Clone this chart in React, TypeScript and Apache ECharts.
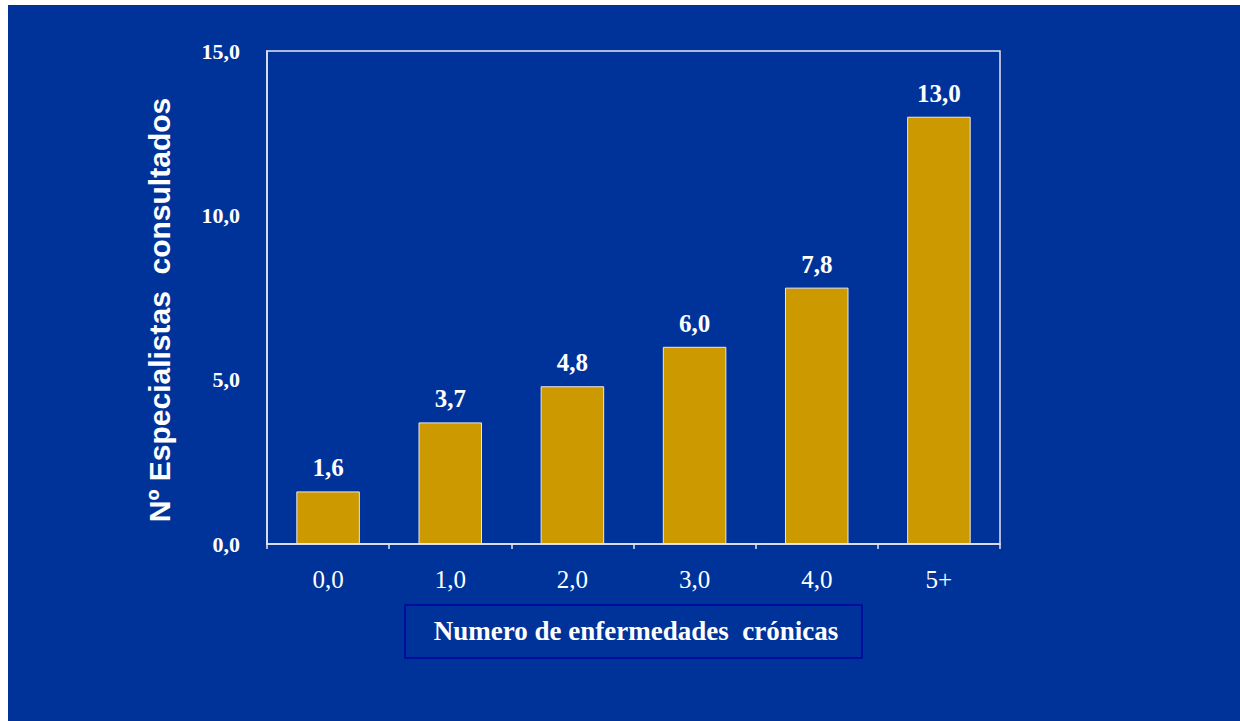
import React, { useEffect, useRef } from "react";
import * as echarts from "echarts";

const categories = ["0,0", "1,0", "2,0", "3,0", "4,0", "5+"];
const values = [1.6, 3.7, 4.8, 6.0, 7.8, 13.0];
const yTicks = [0, 5, 10, 15];
const yTitle = "Nº Especialistas  consultados";
const xTitle = "Numero de enfermedades  crónicas";

const fmt = (v: number) => v.toFixed(1).replace(".", ",");

export default function App() {
  const ref = useRef<HTMLDivElement>(null);
  useEffect(() => {
    if (!ref.current) return;
    const chart = echarts.init(ref.current, undefined, { renderer: "svg" });
    chart.setOption({
      animation: false,
      backgroundColor: "#003399",
      grid: {
        left: 259,
        top: 46,
        right: 240,
        bottom: 177,
        show: true,
        borderColor: "#E6E6F0",
        borderWidth: 1.5,
        backgroundColor: "transparent",
      },
      xAxis: {
        type: "category",
        data: categories,
        axisLine: { lineStyle: { color: "#E6E6F0", width: 1.5 } },
        axisTick: { show: true, length: 5, lineStyle: { color: "#E6E6F0", width: 1.5 } },
        axisLabel: {
          color: "#FFFFFF",
          fontFamily: "Liberation Serif",
          fontSize: 25,
          margin: 23,
        },
      },
      yAxis: {
        type: "value",
        min: yTicks[0],
        max: yTicks[yTicks.length - 1],
        interval: 5,
        splitLine: { show: false },
        axisLine: { show: true, lineStyle: { color: "#E6E6F0", width: 1.5 } },
        axisTick: { show: false },
        axisLabel: {
          color: "#FFFFFF",
          fontFamily: "Liberation Serif",
          fontWeight: "bold",
          fontSize: 22,
          margin: 27,
          formatter: (v: number) => fmt(v),
        },
      },
      series: [
        {
          type: "bar",
          data: values,
          barWidth: "52%",
          itemStyle: { color: "#CC9900", borderColor: "#E8E8E8", borderWidth: 1 },
          label: {
            show: true,
            position: "top",
            distance: 11,
            color: "#FFFFFF",
            fontFamily: "Liberation Serif",
            fontWeight: "bold",
            fontSize: 25,
            formatter: (p: any) => fmt(p.value),
          },
        },
      ],
      graphic: [
        {
          type: "text",
          x: 151,
          y: 305,
          rotation: Math.PI / 2,
          style: {
            text: yTitle,
            fill: "#FFFFFF",
            font: "bold 30px 'Liberation Sans', Arial, sans-serif",
            textAlign: "center",
            textVerticalAlign: "middle",
          },
        },
        {
          type: "rect",
          shape: { x: 397, y: 600, width: 457, height: 53 },
          style: { fill: "transparent", stroke: "#0000A0", lineWidth: 1.5 },
        },
        {
          type: "text",
          x: 628,
          y: 626,
          style: {
            text: xTitle,
            fill: "#FFFFFF",
            font: "bold 27px 'Liberation Serif', 'Times New Roman', serif",
            textAlign: "center",
            textVerticalAlign: "middle",
          },
        },
      ],
    });
    return () => chart.dispose();
  }, []);
  return (
    <div
      ref={ref}
      style={{ position: "fixed", left: 8, top: 5, width: 1232, height: 716 }}
    />
  );
}
